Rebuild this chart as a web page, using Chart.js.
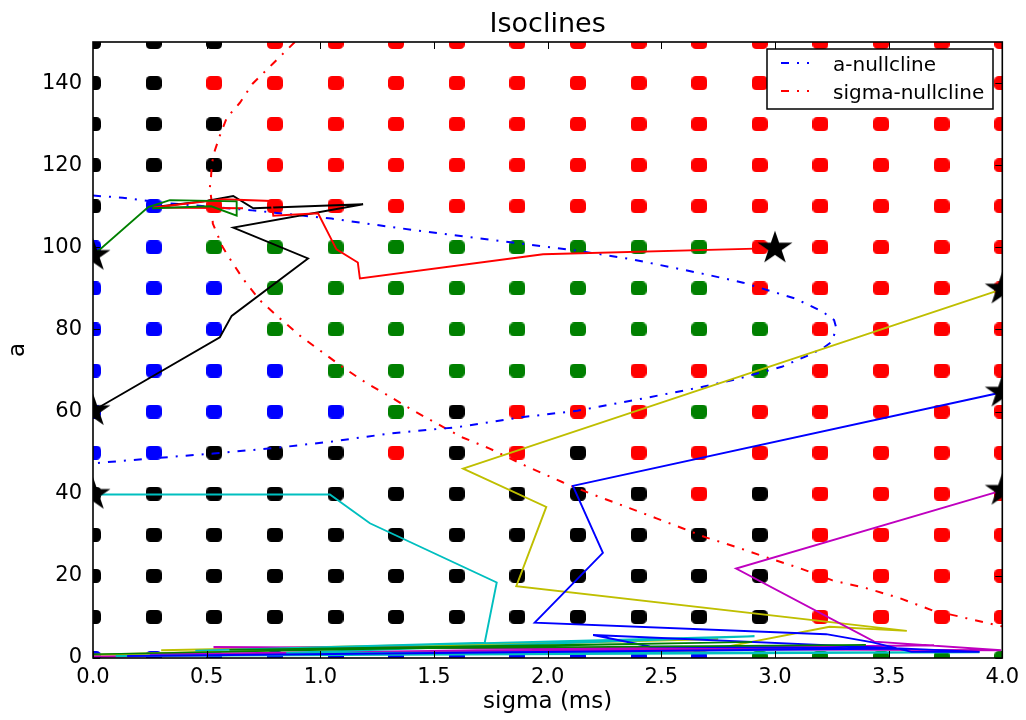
<!DOCTYPE html>
<html>
<head>
<meta charset="utf-8">
<title>Isoclines</title>
<script src="https://cdn.jsdelivr.net/npm/chart.js@4/dist/chart.umd.min.js"></script>
<style>
  html, body { margin: 0; padding: 0; background: #fff; }
  #wrap { width: 1026px; height: 720px; }
</style>
</head>
<body>
<div id="wrap"><canvas id="chart" width="1026" height="720"></canvas></div>
<script>
// ---- grid of initial conditions and their regime ----
const sigmaGrid = [0, 0.267, 0.533, 0.8, 1.067, 1.333, 1.6, 1.867, 2.133, 2.4, 2.667, 2.933, 3.2, 3.467, 3.733, 4.0];
const aGrid = [150, 140, 130, 120, 110, 100, 90, 80, 70, 60, 50, 40, 30, 20, 10, 0];
// K = black, R = red, G = green, B = blue (one row per aGrid value, one char per sigmaGrid value)
const regimeRows = [
  "KKKRRRRRRRRRRRRR",
  "KKRRRRRRRRRRRRRR",
  "KKKRRRRRRRRRRRRR",
  "KKKRRRRRRRRRRRRR",
  "KBRRRRRRRRRRRRRR",
  "BBGGGGGGGGGRRRRR",
  "BBBGGGGGGGGRRRRR",
  "BBBGGGGGGGGGRRRR",
  "BBBBGGGGGRRGRRRR",
  "BBBBBGKRRRGRRRRR",
  "BBKKKRKRKRRRRRRR",
  "KKKKKKKKKKRKRRRR",
  "KKKKKKKKKKKKRRRR",
  "KKKKKKKKKKKKRRRR",
  "KKKKKKKKKKKKRRRR",
  "BBBBBBBBBBBGGGGG"
];

// ---- nullclines ----
const aNullSigma = [0, 0.13, 0.30, 0.70, 1.05, 1.33, 1.88, 2.13, 2.36, 2.68, 2.86, 3.09, 3.21, 3.26, 3.27, 3.25, 3.21, 3.15, 3.03, 2.81, 2.67, 2.42, 2.13, 1.88, 1.60, 1.31, 1.05, 0.81, 0.53, 0.26, 0];
const aNullA     = [112.6, 112.1, 110.9, 109.0, 107.0, 104.8, 100.9, 99.2, 97.2, 93.6, 91.4, 87.5, 84.3, 82.3, 80.3, 77.0, 75.4, 73.8, 70.9, 67.6, 65.9, 63.2, 60.2, 58.6, 56.2, 54.7, 52.7, 51.2, 49.8, 48.6, 47.4];

const sigmaNullSigma = [0.888, 0.791, 0.703, 0.646, 0.589, 0.558, 0.536, 0.523, 0.519, 0.514, 0.523, 0.527, 0.545, 0.571, 0.593, 0.659, 0.734, 0.822, 0.910, 0.998, 1.099, 1.204, 1.305, 1.407, 1.512, 1.626, 1.745, 1.899, 2.066, 2.185, 2.360, 2.479, 2.593, 2.699, 2.831, 2.963, 3.108, 3.253, 3.402, 3.547, 3.692, 3.842, 4.0];
const sigmaNullA     = [150, 144.7, 139.9, 135.2, 131.6, 127.2, 123.6, 120.4, 117.0, 114.6, 110.7, 105.8, 103.4, 100.0, 98.0, 92.4, 87.1, 82.7, 78.5, 74.9, 70.8, 66.9, 63.7, 60.3, 57.1, 53.7, 51.0, 46.9, 42.8, 40.1, 36.5, 34.0, 31.6, 29.3, 27.0, 24.5, 21.9, 18.9, 17.0, 14.6, 11.6, 9.7, 7.7];

// ---- simulated trajectories (first point = starting condition) ----
const blueSigma    = [4.0, 2.111, 2.243, 1.943, 3.225, 3.43, 3.6, 3.9, 2.2, 2.45, 3.55, 0.15];
const blueA        = [64.7, 41.9, 25.6, 8.6, 5.8, 3.8, 1.5, 1.5, 5.6, 2.8, 2.3, 0.5];
const greenSigma   = [0, 0.243, 0.338, 0.632, 0.632, 0.52, 0.26];
const greenA       = [98.0, 109.8, 111.5, 111.2, 107.7, 110.0, 109.5];
const redSigma     = [3.0, 1.98, 1.174, 1.165, 1.071, 0.99, 0.793, 0.785, 0.573, 0.265, 0.66];
const redA         = [99.8, 98.3, 92.4, 96.3, 99.5, 108.3, 107.7, 111.3, 111.7, 109.7, 109.5];
const cyanSigma    = [0, 1.042, 1.218, 1.776, 1.723, 0.45, 2.91, 0.85, 3.9, 0.1];
const cyanA        = [39.8, 39.8, 32.8, 18.4, 3.7, 1.8, 5.3, 1.2, 1.4, 0.5];
const magentaSigma = [4.0, 2.829, 3.437, 3.995, 0.53, 3.08, 0.0, 3.7, 0.25];
const magentaA     = [40.8, 21.8, 4.0, 1.9, 2.6, 2.4, 0.3, 3.1, 0.9];
const yellowSigma  = [4.0, 1.628, 1.994, 1.862, 3.58, 3.24, 2.67, 0.0, 2.75, 0.3];
const yellowA      = [89.8, 46.1, 36.8, 17.5, 6.6, 7.6, 1.5, 0.8, 4.6, 1.9];
const blackSigma   = [0, 0.558, 0.61, 0.946, 0.617, 1.188, 0.705, 0.617, 0.5, 0.30];
const blackA       = [60.2, 78.1, 83.3, 97.3, 104.8, 110.5, 109.5, 112.5, 111.3, 110.0];
const greenLowSigma = [0.0, 2.9, 0.6, 3.4];
const greenLowA     = [0.9, 3.9, 2.0, 3.2];

// ---- styling ----
const FONT = '"DejaVu Sans", "Liberation Sans", sans-serif';
const regimeColors = { K: '#000000', R: '#ff0000', G: '#008000', B: '#0000ff' };
const lineColors = { b: '#0000ff', g: '#008000', r: '#ff0000', c: '#00bfbf', m: '#bf00bf', y: '#bfbf00', k: '#000000' };
const dashDot = [8, 8, 2, 8];

function makeDot(color) {
  const c = document.createElement('canvas');
  c.width = 16; c.height = 14;
  const g = c.getContext('2d');
  const w = 16, h = 14, r = 4.5;
  g.fillStyle = color;
  g.beginPath();
  g.moveTo(r, 0); g.lineTo(w - r, 0); g.arcTo(w, 0, w, r, r);
  g.lineTo(w, h - r); g.arcTo(w, h, w - r, h, r);
  g.lineTo(r, h); g.arcTo(0, h, 0, h - r, r);
  g.lineTo(0, r); g.arcTo(0, 0, r, 0, r);
  g.closePath(); g.fill();
  return c;
}

function makeStar() {
  const c = document.createElement('canvas');
  c.width = 42; c.height = 40;
  const g = c.getContext('2d');
  const R = 17.5, ri = R * 0.382, cx = 21, cy = 20;
  g.fillStyle = '#000';
  g.beginPath();
  for (let i = 0; i < 10; i++) {
    const rad = (i % 2 === 0) ? R : ri;
    const ang = -Math.PI / 2 + i * Math.PI / 5;
    const px = cx + Math.cos(ang) * rad * 1.05;
    const py = cy + Math.sin(ang) * rad;
    if (i === 0) g.moveTo(px, py); else g.lineTo(px, py);
  }
  g.closePath(); g.fill();
  return c;
}

const zip = (xs, ys) => xs.map((x, i) => ({ x: x, y: ys[i] }));

// regime dots, grouped by colour
const dotGroups = { K: [], R: [], G: [], B: [] };
regimeRows.forEach((row, r) => {
  row.split('').forEach((ch, c) => dotGroups[ch].push({ x: sigmaGrid[c], y: aGrid[r] }));
});

const datasets = [];
Object.keys(dotGroups).forEach(k => {
  datasets.push({
    label: 'regime ' + k, data: dotGroups[k], showLine: false,
    pointStyle: makeDot(regimeColors[k]), pointRadius: 8, order: 4, clip: 0
  });
});

datasets.push({
  label: 'a-nullcline', data: zip(aNullSigma, aNullA), showLine: true,
  borderColor: lineColors.b, borderWidth: 2, borderDash: dashDot, pointRadius: 0,
  fill: false, tension: 0, order: 2, clip: 0
});
datasets.push({
  label: 'sigma-nullcline', data: zip(sigmaNullSigma, sigmaNullA), showLine: true,
  borderColor: lineColors.r, borderWidth: 2, borderDash: dashDot, pointRadius: 0,
  fill: false, tension: 0, order: 2, clip: 0
});

const trajectories = [
  [blueSigma, blueA, lineColors.b],
  [greenSigma, greenA, lineColors.g],
  [redSigma, redA, lineColors.r],
  [cyanSigma, cyanA, lineColors.c],
  [magentaSigma, magentaA, lineColors.m],
  [yellowSigma, yellowA, lineColors.y],
  [blackSigma, blackA, lineColors.k]
];
datasets.push({
  label: 'trajectory tail', data: zip(greenLowSigma, greenLowA), showLine: true,
  borderColor: lineColors.g, borderWidth: 1.6, pointRadius: 0, fill: false,
  tension: 0, order: 1, clip: 0
});
trajectories.forEach(([xs, ys, col]) => {
  datasets.push({
    label: 'trajectory', data: zip(xs, ys), showLine: true,
    borderColor: col, borderWidth: 1.9, pointRadius: 0, fill: false,
    tension: 0, order: 1, clip: 0
  });
});

// starting points marked with stars
const starImg = makeStar();
datasets.push({
  label: 'start', data: trajectories.map(([xs, ys]) => ({ x: xs[0], y: ys[0] })),
  showLine: false, pointStyle: starImg, pointRadius: 16, order: 0, clip: 0
});

// frame, inward ticks, title and legend box
const decorations = {
  id: 'decorations',
  afterDatasetsDraw(chart) {
    const ctx = chart.ctx;
    const area = chart.chartArea;
    const xs = chart.scales.x, ys = chart.scales.y;
    ctx.save();
    ctx.strokeStyle = '#000';
    ctx.lineWidth = 1;
    ctx.beginPath();
    xs.ticks.forEach(t => {
      const px = Math.round(xs.getPixelForValue(t.value)) + 0.5;
      ctx.moveTo(px, area.bottom); ctx.lineTo(px, area.bottom - 7);
      ctx.moveTo(px, area.top); ctx.lineTo(px, area.top + 7);
    });
    ys.ticks.forEach(t => {
      const py = Math.round(ys.getPixelForValue(t.value)) + 0.5;
      ctx.moveTo(area.left, py); ctx.lineTo(area.left + 7, py);
      ctx.moveTo(area.right, py); ctx.lineTo(area.right - 7, py);
    });
    ctx.stroke();

    ctx.lineWidth = 1.6;
    ctx.strokeRect(area.left, area.top, area.right - area.left, area.bottom - area.top);

    // title
    ctx.fillStyle = '#000';
    ctx.font = '27px ' + FONT;
    ctx.textAlign = 'center';
    ctx.textBaseline = 'alphabetic';
    ctx.fillText('Isoclines', (area.left + area.right) / 2, 32);

    // legend
    const lx = 767, ly = 49, lw = 226, lh = 60;
    ctx.fillStyle = '#fff';
    ctx.fillRect(lx, ly, lw, lh);
    ctx.lineWidth = 1.5;
    ctx.strokeStyle = '#000';
    ctx.strokeRect(lx, ly, lw, lh);
    const entries = chart.data.datasets.filter(d => d.label.endsWith('nullcline'));
    entries.forEach((d, i) => {
      const y = 63 + i * 28;
      ctx.save();
      ctx.strokeStyle = d.borderColor;
      ctx.lineWidth = 2;
      ctx.setLineDash(dashDot);
      ctx.beginPath();
      ctx.moveTo(781, y); ctx.lineTo(809, y);
      ctx.stroke();
      ctx.restore();
      ctx.fillStyle = '#000';
      ctx.font = '20px ' + FONT;
      ctx.textAlign = 'left';
      ctx.textBaseline = 'alphabetic';
      ctx.fillText(d.label, 833, y + 7.5);
    });
    ctx.restore();
  }
};

new Chart(document.getElementById('chart'), {
  type: 'scatter',
  data: { datasets: datasets },
  options: {
    responsive: false,
    animation: false,
    events: [],
    layout: { padding: { top: 42, right: 23, left: 0, bottom: 0 } },
    plugins: {
      legend: { display: false },
      tooltip: { enabled: false },
      title: { display: false }
    },
    scales: {
      x: {
        type: 'linear', min: 0, max: 4,
        afterFit(s) { s.height = 62; },
        grid: { display: false, drawTicks: false },
        border: { display: false },
        ticks: {
          stepSize: 0.5, autoSkip: false, maxRotation: 0, padding: 7,
          color: '#000', font: { family: FONT, size: 21 },
          callback: v => Number(v).toFixed(1)
        },
        title: { display: true, text: 'sigma (ms)', color: '#000', font: { family: FONT, size: 23 }, padding: { top: 0, bottom: 4 } }
      },
      y: {
        type: 'linear', min: 0, max: 150,
        afterFit(s) { s.width = 93; },
        grid: { display: false, drawTicks: false },
        border: { display: false },
        ticks: {
          stepSize: 20, includeBounds: false, autoSkip: false, padding: 11,
          color: '#000', font: { family: FONT, size: 21 }
        },
        title: { display: true, text: 'a', color: '#000', font: { family: FONT, size: 23 }, padding: { top: 4, bottom: 0 } }
      }
    }
  },
  plugins: [decorations]
});
</script>
</body>
</html>
